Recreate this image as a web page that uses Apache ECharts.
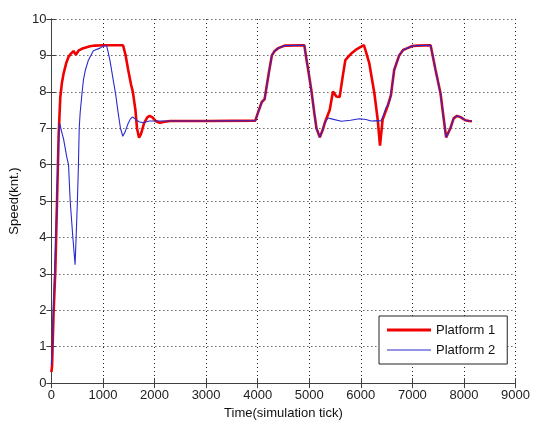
<!DOCTYPE html>
<html>
<head>
<meta charset="utf-8">
<script src="https://cdn.jsdelivr.net/npm/echarts@6/dist/echarts.min.js"></script>
<style>html,body{margin:0;padding:0;background:#fff}#c{width:533px;height:425px}</style>
</head>
<body>
<div id="c"></div>
<script>
const seriesNames = ['Platform 1', 'Platform 2'];
const xTicks = [0, 1000, 2000, 3000, 4000, 5000, 6000, 7000, 8000, 9000];
const yTicks = [0, 1, 2, 3, 4, 5, 6, 7, 8, 9, 10];

const p1X = [0,13,40,77,110,141,173,205,237,290,333,380,429,475,526,590,654,750,846,1000,1390,1440,1490,1545,1580,1630,1660,1700,1740,1800,1860,1905,1960,2020,2100,2200,2300,3000,3955,4000,4080,4135,4180,4220,4275,4330,4400,4530,4905,4945,4980,5045,5100,5140,5205,5260,5302,5397,5430,5460,5525,5590,5650,5700,5750,5814,5900,6006,6060,6100,6165,6263,6327,6372,6423,6519,6583,6647,6744,6820,6904,7000,7096,7353,7400,7449,7545,7609,7654,7737,7800,7865,7940,8026,8100,8154];
const p1Y = [0.3,0.45,1.8,3.1,5.0,6.8,7.85,8.25,8.5,8.8,8.96,9.05,9.12,9.02,9.13,9.18,9.21,9.25,9.27,9.28,9.28,9.0,8.6,8.2,8.0,7.5,7.0,6.74,6.85,7.15,7.3,7.34,7.3,7.2,7.15,7.18,7.2,7.2,7.21,7.4,7.72,7.8,8.2,8.55,9.0,9.12,9.2,9.27,9.28,8.9,8.6,8.0,7.4,7.0,6.75,6.95,7.15,7.5,7.77,8.01,7.87,7.86,8.43,8.87,8.95,9.05,9.15,9.24,9.28,9.1,8.78,7.96,7.24,6.52,7.24,7.6,7.9,8.6,9.0,9.15,9.2,9.26,9.27,9.28,8.95,8.6,7.96,7.24,6.75,7.0,7.27,7.34,7.3,7.22,7.2,7.19];

const p2X = [0,20,50,80,110,140,160,200,237,300,333,365,417,460,480,505,525,540,558,590,622,660,718,814,942,1000,1071,1100,1135,1199,1250,1295,1340,1385,1430,1480,1530,1575,1630,1700,1775,1900,3000,3955,4000,4080,4135,4180,4220,4275,4330,4400,4530,4905,4945,4980,5045,5100,5140,5205,5260,5300,5365,5450,5622,5800,5974,6006,6100,6200,6327,6390,6423,6487,6550,6583,6647,6744,6820,6904,7000,7096,7353,7400,7449,7545,7609,7654,7737,7800,7865,7940,8026,8100,8154];
const p2Y = [0.5,1.0,2.5,3.7,5.2,6.7,7.15,6.9,6.7,6.2,6.0,5.0,4.0,3.25,4.0,5.0,6.0,7.0,7.42,7.9,8.33,8.6,8.87,9.13,9.2,9.25,9.27,9.1,8.87,8.33,7.9,7.42,7.0,6.78,6.9,7.1,7.25,7.31,7.25,7.18,7.15,7.2,7.2,7.21,7.4,7.72,7.8,8.2,8.55,9.0,9.12,9.2,9.27,9.28,8.9,8.6,8.0,7.4,7.0,6.75,6.95,7.15,7.28,7.25,7.19,7.22,7.26,7.28,7.24,7.2,7.21,7.2,7.3,7.56,7.7,7.9,8.6,9.0,9.15,9.2,9.26,9.27,9.28,8.95,8.6,7.96,7.24,6.75,7.0,7.27,7.34,7.3,7.22,7.2,7.19];

const zip = (xs, ys) => xs.map((x, i) => [x, ys[i]]);
const font = "'Liberation Sans', Arial, sans-serif";
const lineCol = '#404040';
const red = '#f00000', blue = '#2a2ad0';
const xMin = xTicks[0], xMax = xTicks[xTicks.length - 1], xInt = xTicks[1] - xTicks[0];
const yMin = yTicks[0], yMax = yTicks[yTicks.length - 1], yInt = yTicks[1] - yTicks[0];

// legend line icons (tiny corner dots keep the 44x14 bounding box)
const thickIcon = 'path://M0,0h0.01v0.01h-0.01z M0,5.5h44v3h-44z M44,14h-0.01v-0.01h0.01z';
const thinIcon = 'path://M0,0h0.01v0.01h-0.01z M0,6.5h44v1.1h-44z M44,14h-0.01v-0.01h0.01z';

const chart = echarts.init(document.getElementById('c'), null, {renderer: 'canvas'});
const baseAxis = {
  axisLine: {show: true, lineStyle: {color: lineCol, width: 1}},
  axisTick: {show: true, inside: true, length: 5, lineStyle: {color: lineCol}},
};
chart.setOption({
  animation: false,
  backgroundColor: '#fff',
  grid: {left: 51, right: 14, top: 19, bottom: 39, show: false},
  legend: {
    data: [
      {name: seriesNames[0], icon: thickIcon, itemStyle: {color: red}},
      {name: seriesNames[1], icon: thinIcon, itemStyle: {color: blue}}
    ],
    orient: 'vertical',
    left: 379, top: 316,
    itemWidth: 44, itemHeight: 14, itemGap: 6,
    padding: [7, 12, 7, 8],
    backgroundColor: '#fff',
    borderColor: '#222', borderWidth: 1,
    textStyle: {fontFamily: font, fontSize: 13, color: '#111'}
  },
  xAxis: [
    Object.assign({}, baseAxis, {
      type: 'value', min: xMin, max: xMax, interval: xInt, position: 'bottom',
      name: 'Time(simulation tick)', nameLocation: 'middle', nameGap: 23,
      nameTextStyle: {fontFamily: font, fontSize: 13, color: '#111'},
      axisLabel: {fontFamily: font, fontSize: 13, color: '#222', margin: 6, formatter: v => String(v)},
      splitLine: {show: true, lineStyle: {color: '#222', type: [1, 3], width: 1}}
    }),
    Object.assign({}, baseAxis, {
      type: 'value', min: xMin, max: xMax, interval: xInt, position: 'top',
      axisLabel: {show: false}, splitLine: {show: false}
    })
  ],
  yAxis: [
    Object.assign({}, baseAxis, {
      type: 'value', min: yMin, max: yMax, interval: yInt, position: 'left',
      name: 'Speed(knt.)', nameLocation: 'middle', nameGap: 28, nameRotate: 90,
      nameTextStyle: {fontFamily: font, fontSize: 13, color: '#111'},
      axisLabel: {fontFamily: font, fontSize: 13, color: '#222', margin: 5, formatter: v => String(v)},
      splitLine: {show: true, lineStyle: {color: '#222', type: [1, 3], width: 1}}
    }),
    Object.assign({}, baseAxis, {
      type: 'value', min: yMin, max: yMax, interval: yInt, position: 'right',
      axisLabel: {show: false}, splitLine: {show: false}
    })
  ],
  series: [
    {
      name: seriesNames[0], type: 'line', symbol: 'none', showSymbol: false,
      data: zip(p1X, p1Y), z: 2,
      itemStyle: {color: red},
      lineStyle: {color: red, width: 2.6}
    },
    {
      name: seriesNames[1], type: 'line', symbol: 'none', showSymbol: false,
      data: zip(p2X, p2Y), z: 3,
      itemStyle: {color: blue},
      lineStyle: {color: blue, width: 1.1}
    }
  ]
});
</script>
</body>
</html>
